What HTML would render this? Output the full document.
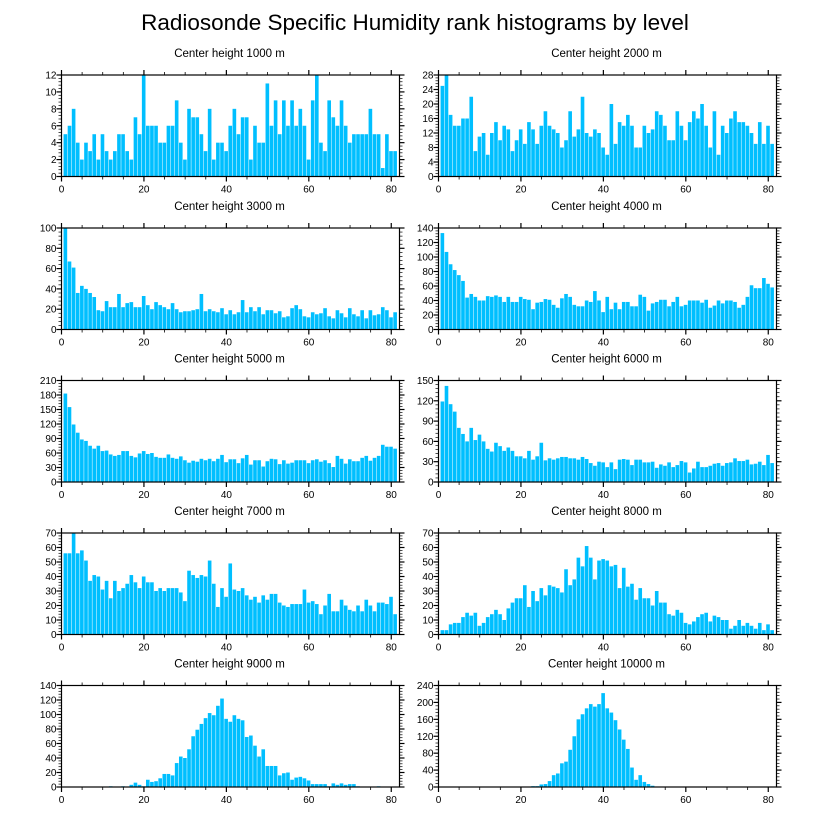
<!DOCTYPE html>
<html><head><meta charset="utf-8">
<style>
html,body{margin:0;padding:0;background:#fff;}
svg{display:block;font-family:"Liberation Sans",sans-serif;}
</style></head>
<body>
<svg id="chart" width="816" height="824" viewBox="0 0 816 824" xmlns="http://www.w3.org/2000/svg">
<text x="415" y="30" text-anchor="middle" font-size="22.5" fill="#000">Radiosonde Specific Humidity rank histograms by level</text>
</svg>
<script>
const panelTitles = ["Center height 1000 m","Center height 2000 m","Center height 3000 m","Center height 4000 m","Center height 5000 m","Center height 6000 m","Center height 7000 m","Center height 8000 m","Center height 9000 m","Center height 10000 m"];
const yMaxes = [12,28,100,140,210,150,70,70,140,240];
const ySteps = [2,4,20,20,30,30,10,10,20,40];
const xTicks = [0,20,40,60,80];
const h1000 = [5,6,8,4,2,4,3,5,2,5,3,2,3,5,5,3,2,7,5,12,6,6,6,4,4,6,6,9,4,2,8,7,7,5,3,8,2,4,4,3,6,8,5,7,7,2,6,4,4,11,6,9,5,9,6,9,6,8,6,2,9,12,4,3,9,7,6,9,6,4,5,5,5,5,8,5,5,1,5,3,3];
const h2000 = [25,28,17,14,14,16,16,22,7,11,12,6,12,15,10,14,13,7,10,13,9,15,13,9,14,18,14,13,12,8,10,18,11,13,22,12,11,13,12,8,6,20,9,15,14,17,14,8,8,14,12,13,18,17,14,10,10,18,14,10,15,18,16,20,14,8,18,6,14,12,16,18,15,15,14,12,9,15,9,14,9];
const h3000 = [100,67,61,36,43,40,36,32,19,18,28,22,22,35,22,26,27,22,22,33,24,20,27,24,22,20,26,20,17,18,18,19,20,35,18,20,18,17,21,15,19,15,17,29,17,22,18,22,15,19,19,16,18,12,13,21,24,20,13,12,17,15,16,21,13,11,19,16,12,21,15,13,19,11,19,14,15,22,19,12,17];
const h4000 = [133,107,90,82,75,67,44,49,45,40,40,46,45,47,45,38,45,38,38,45,42,41,28,37,38,42,41,34,30,43,49,45,34,32,32,40,38,53,40,24,45,28,37,28,38,38,32,32,48,45,26,36,38,41,41,32,38,45,32,34,40,40,40,37,41,30,33,40,36,40,40,38,30,34,45,61,57,57,71,63,58];
const h5000 = [183,155,119,102,88,85,75,69,75,64,65,57,54,56,64,64,54,51,59,64,58,60,52,50,50,57,50,48,53,45,40,44,42,48,45,48,43,48,56,41,47,47,39,49,56,36,45,45,32,43,48,47,37,45,38,40,45,45,45,39,45,47,42,45,39,31,54,48,38,47,43,43,50,54,44,50,54,77,73,73,69];
const h6000 = [119,142,115,104,80,71,60,80,62,70,60,49,45,58,53,46,51,46,38,38,35,46,33,38,58,32,35,33,35,37,37,35,35,33,37,34,28,24,30,29,22,29,19,33,34,33,25,33,33,29,29,30,21,26,24,29,22,25,31,29,14,20,30,22,22,24,27,28,24,28,29,35,31,31,33,26,27,30,25,40,28];
const h7000 = [56,56,70,56,58,51,37,41,40,31,37,25,37,30,32,35,41,36,32,40,36,36,30,32,30,32,32,32,29,23,44,41,39,41,40,51,35,19,32,26,49,31,30,32,27,24,26,22,27,24,28,28,22,20,19,21,21,21,31,22,23,21,14,20,28,16,16,24,20,17,16,20,16,24,20,16,22,22,21,26,14];
const h8000 = [3,3,7,8,8,12,15,13,15,6,8,12,14,17,14,10,18,22,25,25,34,19,30,23,32,27,34,33,32,29,45,34,38,53,47,61,53,38,51,52,51,47,48,32,46,33,35,24,32,25,25,20,30,22,22,14,13,17,15,8,7,9,12,14,15,9,13,12,10,10,4,6,10,6,8,6,4,8,3,7,3];
const h9000 = [0,0,0,0,0,0,0,0,0,0,0,1,0,0,1,0,3,6,3,1,10,7,8,12,18,18,16,33,42,40,52,70,79,87,95,102,99,112,122,94,90,99,94,92,69,71,57,42,52,29,29,29,16,19,20,10,13,14,12,9,4,4,4,4,1,5,3,5,3,4,4,1,0,0,0,0,1,0,0,0,0];
const h10000 = [0,0,0,0,0,0,0,0,0,0,0,0,0,0,0,0,0,0,0,1,1,1,2,2,6,7,14,28,32,56,60,88,120,160,172,186,196,190,196,222,186,176,158,136,112,90,46,17,28,12,7,3,0,1,1,1,0,0,0,0,0,0,0,0,0,0,0,0,0,0,0,0,0,0,0,0,0,0,0,0,0];
const series = [h1000,h2000,h3000,h4000,h5000,h6000,h7000,h8000,h9000,h10000];

const NS = "http://www.w3.org/2000/svg";
const svg = document.getElementById('chart');
function mk(tag, attrs, parent){ const e=document.createElementNS(NS,tag); for(const k in attrs) e.setAttribute(k,attrs[k]); parent.appendChild(e); return e; }

const lefts=[61.5,438.5], W=338, H=101.5, tops=[75,228,380.5,533,685.5], XMAX=82;

for(let p=0;p<10;p++){
  const col=p%2,row=Math.floor(p/2);
  const x0=lefts[col], y0=tops[row], ymax=yMaxes[p], ystep=ySteps[p], data=series[p];
  const xs=v=>x0+v/XMAX*W;
  const ys=v=>y0+H-v/ymax*H;
  const g=mk('g',{},svg);
  
  
  const t=mk('text',{x:x0+W/2-1,y:y0-18,'text-anchor':'middle','font-size':'11.5',fill:'#000'},g);
  
  
  t.textContent=panelTitles[p];
  for(let i=0;i<data.length;i++){
    const v=Math.min(data[i],ymax);
    if(v<=0) continue;
    const r=i+1;
    const b=mk('rect',{x:xs(r-0.5),y:ys(v),width:Math.max(0.5,xs(r+0.5)-xs(r-0.5)-0.5),height:ys(0)-ys(v),fill:'#00bfff'},g);
    
    
  }
  const fr=mk('rect',{x:x0,y:y0,width:W,height:H,fill:'none',stroke:'#000','stroke-width':'1.2'},g);
  
  
  for(let v=0;v<=XMAX;v+=5){
    const major=v%20===0, len=major?5:3, X=xs(v);
    mk('line',{x1:X,x2:X,y1:y0+H,y2:y0+H+len,stroke:'#000','stroke-width':major?1.2:0.8},g);
    mk('line',{x1:X,x2:X,y1:y0,y2:y0-len,stroke:'#000','stroke-width':major?1.2:0.8},g);
  }
  for(const v of xTicks){
    const l=mk('text',{x:xs(v),y:y0+H+16,'text-anchor':'middle','font-size':'10',fill:'#000'},g);
    
    
    l.textContent=v;
  }
  const minor=ystep/5;
  for(let k=0;k*minor<=ymax+1e-9;k++){
    const v=k*minor, major=k%5===0, len=major?5:3, Y=ys(v);
    mk('line',{x1:x0,x2:x0-len,y1:Y,y2:Y,stroke:'#000','stroke-width':major?1.2:0.7},g);
    mk('line',{x1:x0+W,x2:x0+W+len,y1:Y,y2:Y,stroke:'#000','stroke-width':major?1.2:0.7},g);
  }
  for(let v=0;v<=ymax+1e-9;v+=ystep){
    const l=mk('text',{x:x0-5,y:ys(v)+3.5,'text-anchor':'end','font-size':'10',fill:'#000'},g);
    
    
    l.textContent=v;
  }
}
</script>
</body></html>
